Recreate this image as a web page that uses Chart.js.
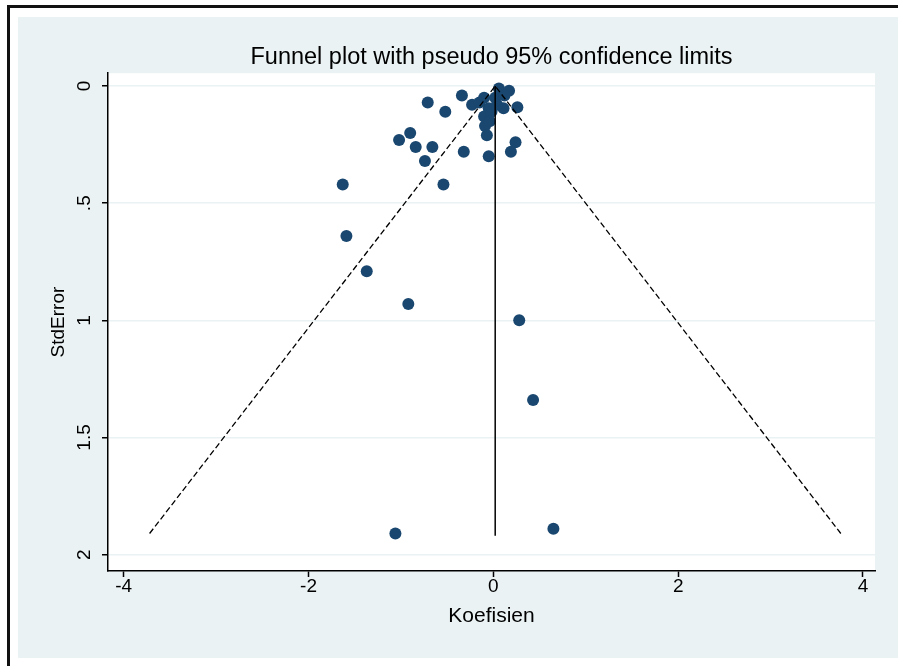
<!DOCTYPE html>
<html lang="en">
<head>
<meta charset="UTF-8">
<title>Funnel plot with pseudo 95% confidence limits</title>
<script src="https://cdn.jsdelivr.net/npm/chart.js"></script>
<style>
    body {
        margin: 0;
        background: #fff;
        width: 898px;
        height: 666px;
        overflow: hidden;
        position: relative;
        font-family: 'Liberation Sans', Arial, sans-serif;
    }
    .frame-top {
        position: absolute;
        left: 7px;
        top: 5px;
        width: 891px;
        height: 3px;
        background: #111;
    }
    .frame-left {
        position: absolute;
        left: 7px;
        top: 5px;
        width: 3px;
        height: 661px;
        background: #111;
    }
    .chart-box {
        position: absolute;
        left: 18px;
        top: 17px;
        width: 880px;
        height: 641px;
        background: #eaf2f3;
    }
</style>
</head>
<body>
<div class="frame-top"></div>
<div class="frame-left"></div>
<div class="chart-box"><canvas id="funnel"></canvas></div>

<script>
// studies: effect (Koefisien) and standard error
const koefisien = [0.06, 0.17, -0.34, -0.71, -0.52, -0.23, -0.10, 0.26, -0.05, 0.11,
                   -0.10, -0.09, -0.07, 0.02, -0.02, 0.04, -1.02, -0.90, -0.84, -0.66,
                   -0.74, -0.32, -0.05, 0.24, 0.19, -1.63, -0.54, -1.59, -1.37, -0.92,
                   0.28, 0.43, -1.06, 0.65, -0.15, 0.12, -0.04];
const stdError  = [0.01, 0.02, 0.04, 0.07, 0.11, 0.08, 0.05, 0.09, 0.095, 0.095,
                   0.13, 0.17, 0.21, 0.05, 0.11, 0.08, 0.23, 0.20, 0.26, 0.26,
                   0.32, 0.28, 0.30, 0.24, 0.28, 0.42, 0.42, 0.64, 0.79, 0.93,
                   1.00, 1.34, 1.91, 1.89, 0.07, 0.04, 0.15];

// pseudo 95% limits and pooled estimate line
const funnelX = [-3.72, 0.02, 3.76];
const funnelY = [1.91, 0, 1.91];
const pooledX = [0.02, 0.02];
const pooledY = [0, 1.92];

const xTicks = [-4, -2, 0, 2, 4];
const yTicks = [0, 0.5, 1, 1.5, 2];

const toPoints = (xs, ys) => xs.map((x, i) => ({ x: x, y: ys[i] }));

const plotBg = {
    id: 'plotBg',
    beforeDraw(chart) {
        const { ctx, chartArea: a } = chart;
        ctx.save();
        ctx.fillStyle = '#ffffff';
        ctx.fillRect(a.left, a.top, a.right - a.left, a.bottom - a.top);
        ctx.restore();
    }
};

Chart.defaults.font.family = "'Liberation Sans', Arial, sans-serif";
Chart.defaults.color = '#000';

new Chart(document.getElementById('funnel'), {
    type: 'scatter',
    data: {
        datasets: [
            {
                label: 'pooled',
                data: toPoints(pooledX, pooledY),
                showLine: true,
                borderColor: '#000',
                borderWidth: 1.5,
                pointRadius: 0
            },
            {
                label: 'limits',
                data: toPoints(funnelX, funnelY),
                showLine: true,
                borderColor: '#000',
                borderWidth: 1.3,
                borderDash: [6, 3],
                pointRadius: 0
            },
            {
                label: 'studies',
                data: toPoints(koefisien, stdError),
                backgroundColor: '#1a476f',
                borderWidth: 0,
                pointRadius: 6,
                pointHoverRadius: 6
            }
        ]
    },
    options: {
        responsive: true,
        maintainAspectRatio: false,
        animation: false,
        layout: { padding: { left: 0, right: 23, top: 0, bottom: 0 } },
        plugins: {
            legend: { display: false },
            tooltip: { enabled: false },
            title: {
                display: true,
                fullSize: false,
                text: 'Funnel plot with pseudo 95% confidence limits',
                color: '#000',
                font: { size: 23.5, weight: 'normal' },
                padding: { top: 26, bottom: 2 }
            }
        },
        scales: {
            x: {
                type: 'linear',
                min: -4.17,
                max: 4.13,
                afterBuildTicks: s => { s.ticks = xTicks.map(v => ({ value: v })); },
                afterFit: s => { s.height = 87; },
                border: { color: '#000', width: 1.5 },
                grid: { drawOnChartArea: false, color: '#000', tickLength: 6, tickWidth: 1.5 },
                ticks: { font: { size: 19 }, padding: -2, maxRotation: 0 },
                title: {
                    display: true,
                    text: 'Koefisien',
                    font: { size: 21 },
                    padding: { top: 0, bottom: 29 }
                }
            },
            y: {
                type: 'linear',
                reverse: true,
                min: -0.055,
                max: 2.07,
                afterBuildTicks: s => { s.ticks = yTicks.map(v => ({ value: v })); },
                afterFit: s => { s.width = 90; },
                border: { color: '#000', width: 1.5 },
                grid: { color: '#eaf2f3', lineWidth: 1.5, tickColor: '#000', tickLength: 6, tickWidth: 1.5 },
                ticks: {
                    font: { size: 19 },
                    padding: 4,
                    minRotation: 90,
                    maxRotation: 90,
                    crossAlign: 'center',
                    callback: v => v === 0 ? '0' : String(v).replace(/^0\./, '.')
                },
                title: {
                    display: true,
                    text: 'StdError',
                    font: { size: 19 },
                    padding: { top: 29, bottom: 0 }
                }
            }
        }
    },
    plugins: [plotBg]
});
</script>
</body>
</html>
